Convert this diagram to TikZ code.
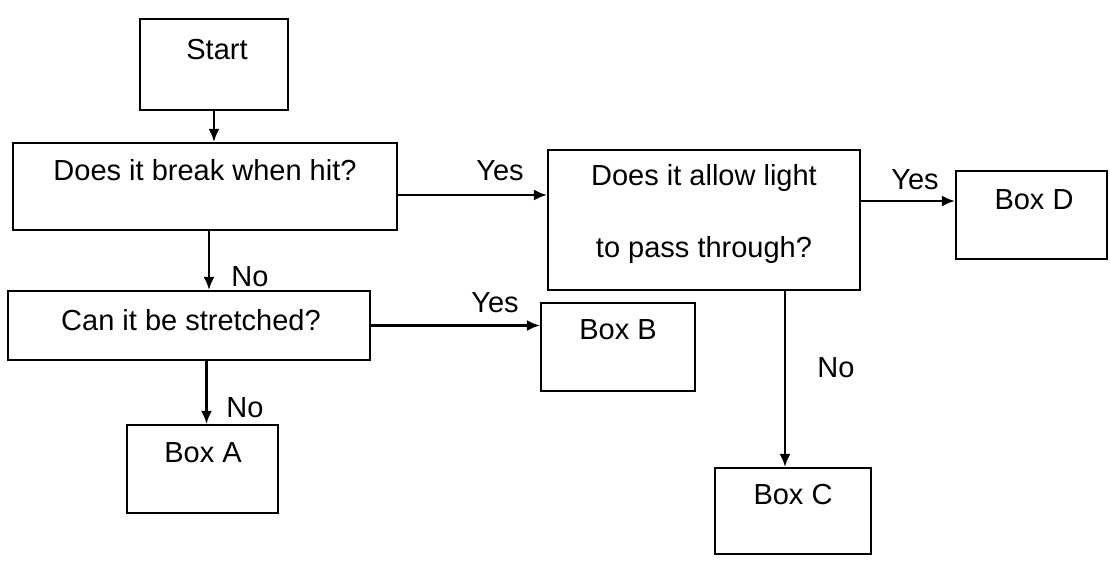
\documentclass[tikz,border=0pt]{standalone}
\usepackage{fontspec}
\setmainfont{Liberation Sans}
\usetikzlibrary{arrows.meta}
\begin{document}
\begin{tikzpicture}[x=1pt,y=-1pt,
  box/.style={draw=black,line width=2.2pt,rectangle,inner sep=0pt},
  txt/.style={inner sep=0pt,font=\fontsize{29}{34}\selectfont,text=black},
  arr/.style={draw=black,line width=2.2pt,-{Latex[length=13pt,width=11pt]}}]
\useasboundingbox[fill=white] (0,0) rectangle (1110,561);
% boxes
\node[box,minimum width=148pt,minimum height=91pt] (start) at (214,64.5) {};
\node[box,minimum width=384pt,minimum height=87pt] (q1) at (205,186.5) {};
\node[box,minimum width=312pt,minimum height=140pt] (q2) at (704,220) {};
\node[box,minimum width=362pt,minimum height=69pt] (q3) at (189,325.5) {};
\node[box,minimum width=151pt,minimum height=88pt] (A) at (202.5,469) {};
\node[box,minimum width=154pt,minimum height=88pt] (B) at (618,347) {};
\node[box,minimum width=156pt,minimum height=86pt] (C) at (793,511) {};
\node[box,minimum width=151pt,minimum height=88pt] (D) at (1031.5,215) {};
% texts
\node[txt] (startT) at (217,50) {Start};
\node[txt] (q1T) at (205,170) {Does it break when hit?};
\node[txt,align=center,font=\fontsize{29}{72}\selectfont] (q2T) at (704,214) {Does it allow light\\to pass through?};
\node[txt] (q3T) at (191,320) {Can it be stretched?};
\node[txt] (AT) at (203,453) {Box A};
\node[txt] (BT) at (618,330) {Box B};
\node[txt] (CT) at (793,495) {Box C};
\node[txt] (DT) at (1034,200) {Box D};
% connectors
\draw[arr] (start.south) -- (start.south |- q1.north);
\coordinate (n1s) at ([xshift=4pt]q1.south);
\draw[arr] (n1s) -- (n1s |- q3.north);
\coordinate (ain) at ([xshift=4pt]A.north);
\draw[arr] (q3.south -| ain) -- (ain);
\draw[arr] ([yshift=-8.5pt]q1.east) coordinate (y1s) -- (y1s -| q2.west);
\draw[arr] (q3.east) -- (q3.east -| B.west);
\draw[arr] ([yshift=19pt]q2.east) coordinate (y2s) -- (y2s -| D.west);
\coordinate (cin) at ([xshift=-8pt]C.north);
\draw[arr] (q2.south -| cin) -- (cin);
% labels
\node[txt] (l1) at (500,171) {Yes};
\node[txt] (l2) at (495,303) {Yes};
\node[txt] (l3) at (915,180) {Yes};
\node[txt] (l4) at (250,277) {No};
\node[txt] (l5) at (245,408) {No};
\node[txt] (l6) at (836,368) {No};
\end{tikzpicture}
\end{document}
